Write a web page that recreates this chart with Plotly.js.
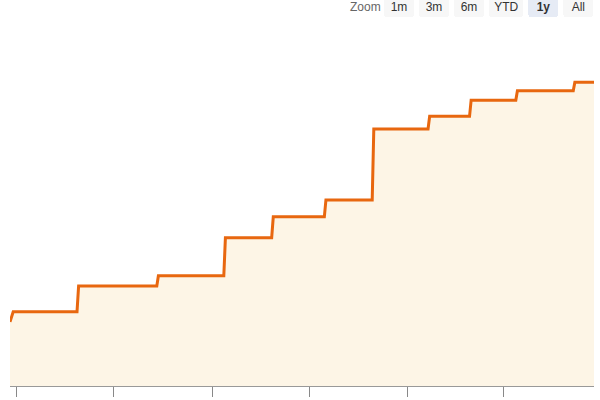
<!DOCTYPE html>
<html>
<head>
<meta charset="utf-8">
<script src="https://cdn.plot.ly/plotly-3.0.1.min.js"></script>
<style>html,body{margin:0;padding:0;background:#fff;}#chart{width:600px;height:400px;}</style>
</head>
<body>
<div id="chart"></div>
<script>
const dates = [
  '2023-04-27','2023-04-29','2023-06-08','2023-06-09','2023-07-28','2023-07-29',
  '2023-09-08','2023-09-09','2023-10-08','2023-10-09','2023-11-10','2023-11-11',
  '2023-12-10','2023-12-11','2024-01-14','2024-01-15','2024-02-09','2024-02-10',
  '2024-03-09','2024-03-10','2024-04-14','2024-04-15','2024-04-27'
];
const values = [
  17.8, 20.6, 20.6, 27.8, 27.8, 30.6,
  30.6, 41.2, 41.2, 47.0, 47.0, 51.7,
  51.7, 71.4, 71.4, 74.9, 74.9, 79.4,
  79.4, 82.0, 82.0, 84.4, 84.4
];
const rangeButtons = [
  {count: 1, label: '1m', step: 'month', stepmode: 'backward'},
  {count: 3, label: '3m', step: 'month', stepmode: 'backward'},
  {count: 6, label: '6m', step: 'month', stepmode: 'backward'},
  {count: 1, label: 'YTD', step: 'year', stepmode: 'todate'},
  {count: 1, label: '<b>1y</b>', step: 'year', stepmode: 'backward'},
  {label: 'All', step: 'all'}
];
const xRange = ['2023-04-27', '2024-04-27'];

const trace = {
  x: dates,
  y: values,
  type: 'scatter',
  mode: 'lines',
  line: {color: '#e8670f', width: 3},
  fill: 'tozeroy',
  fillcolor: '#fdf5e6',
  hoverinfo: 'skip'
};

const layout = {
  width: 600,
  height: 400,
  margin: {l: 9.5, r: 5.5, t: 26, b: 14, autoexpand: false},
  paper_bgcolor: '#ffffff',
  plot_bgcolor: '#ffffff',
  showlegend: false,
  font: {family: 'Liberation Sans, Arial, sans-serif', size: 11, color: '#333333'},
  xaxis: {
    type: 'date',
    range: xRange,
    showgrid: false,
    zeroline: false,
    showline: true,
    linecolor: '#999999',
    linewidth: 1,
    ticks: 'outside',
    ticklen: 10,
    tickcolor: '#888888',
    tickwidth: 1,
    dtick: 'M2',
    tick0: '2023-01-01',
    showticklabels: false,
    rangeselector: {
      buttons: rangeButtons,
      x: 1.007,
      xanchor: 'right',
      y: 1.0775,
      yanchor: 'top',
      bgcolor: '#f7f7f7',
      activecolor: '#e6ebf5',
      font: {family: 'Liberation Sans, Arial, sans-serif', size: 12, color: '#333333'}
    }
  },
  yaxis: {
    range: [0, 100],
    showgrid: false,
    zeroline: false,
    showline: false,
    showticklabels: false,
    ticks: ''
  },
  annotations: [{
    text: 'Zoom',
    xref: 'paper', yref: 'paper',
    x: 0.638, y: 1.0775,
    xanchor: 'right', yanchor: 'top',
    showarrow: false,
    font: {family: 'Liberation Sans, Arial, sans-serif', size: 12, color: '#666666'}
  }]
};

Plotly.newPlot('chart', [trace], layout, {displayModeBar: false});
</script>
</body>
</html>
